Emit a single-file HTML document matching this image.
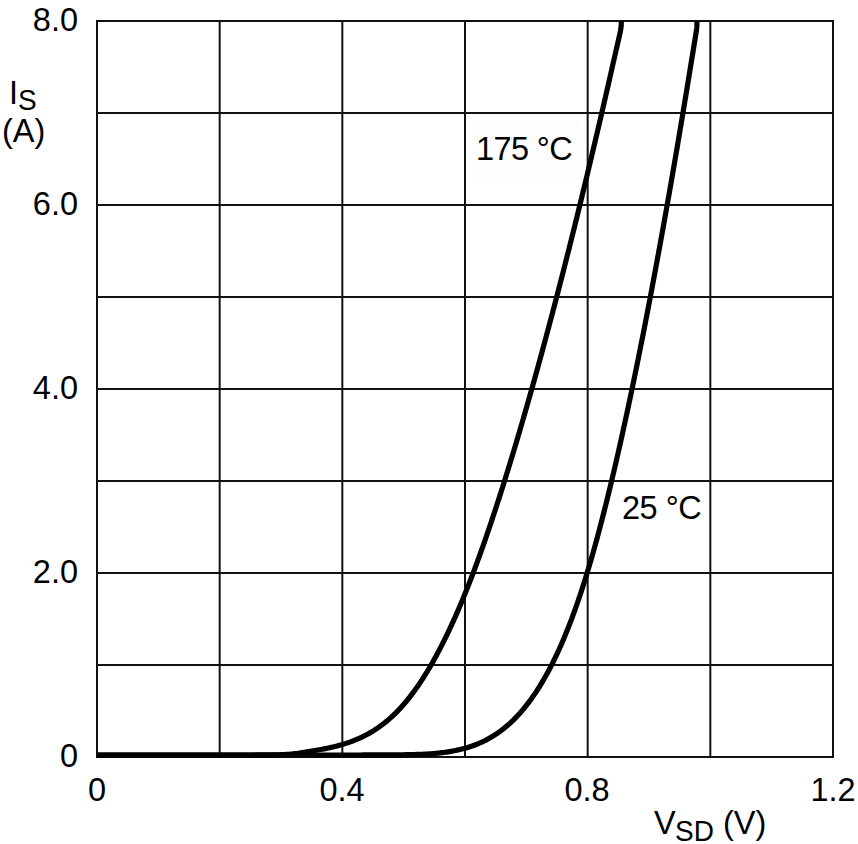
<!DOCTYPE html>
<html><head><meta charset="utf-8">
<style>
html,body{margin:0;padding:0;background:#fff;}
body{width:858px;height:844px;overflow:hidden;position:relative;font-family:"Liberation Sans",sans-serif;color:#000;}
svg{position:absolute;left:0;top:0;}
.t{position:absolute;font-size:32.5px;line-height:32px;white-space:nowrap;}
.r{text-align:right;}
.c{text-align:center;}
.s{font-size:28px;transform:scaleY(1.06);transform-origin:0 0;}
</style></head><body>
<svg width="858" height="844" viewBox="0 0 858 844">
<rect x="471" y="121" width="109" height="60" fill="#fdfdfd"/>
<rect x="96.00" y="20" width="2" height="738" fill="#111"/><rect x="218.67" y="20" width="2" height="738" fill="#111"/><rect x="341.33" y="20" width="2" height="738" fill="#111"/><rect x="464.00" y="20" width="2" height="738" fill="#111"/><rect x="586.67" y="20" width="2" height="738" fill="#111"/><rect x="709.33" y="20" width="2" height="738" fill="#111"/><rect x="832.00" y="20" width="2" height="738" fill="#111"/><rect x="96" y="20.00" width="738" height="2" fill="#111"/><rect x="96" y="112.00" width="738" height="2" fill="#111"/><rect x="96" y="204.00" width="738" height="2" fill="#111"/><rect x="96" y="296.00" width="738" height="2" fill="#111"/><rect x="96" y="388.00" width="738" height="2" fill="#111"/><rect x="96" y="480.00" width="738" height="2" fill="#111"/><rect x="96" y="572.00" width="738" height="2" fill="#111"/><rect x="96" y="664.00" width="738" height="2" fill="#111"/><rect x="96" y="756.00" width="738" height="2" fill="#111"/>
<path d="M97.00 754.98 L232.72 755.00 L234.24 755.00 L235.76 755.00 L237.28 755.00 L238.80 754.99 L240.31 754.99 L241.83 754.99 L243.35 754.99 L244.87 754.99 L246.39 754.99 L247.91 754.99 L249.43 754.98 L250.95 754.98 L252.46 754.98 L253.98 754.98 L255.50 754.97 L257.02 754.97 L258.54 754.96 L260.06 754.96 L261.58 754.95 L263.10 754.94 L264.61 754.93 L266.13 754.92 L267.65 754.91 L269.17 754.90 L270.69 754.88 L272.21 754.86 L273.73 754.84 L275.24 754.81 L276.76 754.78 L278.28 754.75 L279.80 754.70 L281.32 754.66 L282.84 754.60 L284.36 754.54 L285.88 754.47 L287.39 754.38 L288.91 754.28 L290.43 754.17 L291.95 754.04 L293.47 753.88 L294.99 753.70 L296.51 753.50 L298.03 753.26 L299.50 752.99 L301.02 752.70 L302.54 752.44 L304.06 752.20 L305.60 751.96 L307.13 751.73 L308.67 751.49 L310.22 751.25 L311.75 751.02 L313.24 750.78 L314.78 750.53 L316.27 750.28 L317.80 750.03 L319.37 749.75 L320.85 749.49 L322.37 749.21 L323.92 748.91 L325.49 748.61 L327.09 748.28 L328.58 747.97 L330.09 747.65 L331.61 747.31 L333.15 746.95 L334.70 746.58 L336.27 746.19 L337.84 745.78 L339.43 745.36 L340.88 744.95 L342.33 744.53 L343.79 744.09 L345.25 743.63 L346.72 743.15 L348.20 742.66 L349.68 742.14 L351.17 741.60 L352.66 741.04 L354.16 740.45 L355.67 739.84 L357.18 739.20 L358.70 738.54 L360.08 737.92 L361.46 737.28 L362.85 736.61 L364.24 735.91 L365.64 735.19 L367.05 734.45 L368.46 733.67 L369.88 732.87 L371.31 732.03 L372.74 731.17 L374.02 730.37 L375.31 729.55 L376.60 728.70 L377.90 727.82 L379.20 726.91 L380.51 725.97 L381.83 725.00 L383.16 724.00 L384.49 722.96 L385.82 721.89 L387.00 720.92 L388.18 719.92 L389.36 718.90 L390.56 717.85 L391.75 716.76 L392.95 715.64 L394.16 714.50 L395.38 713.31 L396.59 712.10 L397.82 710.84 L398.87 709.74 L399.93 708.61 L401.00 707.45 L402.07 706.26 L403.15 705.05 L404.23 703.80 L405.31 702.52 L406.41 701.21 L407.51 699.86 L408.62 698.49 L409.73 697.08 L410.66 695.87 L411.60 694.64 L412.55 693.39 L413.50 692.11 L414.45 690.80 L415.41 689.47 L416.38 688.11 L417.35 686.72 L418.33 685.30 L419.32 683.85 L420.31 682.38 L421.30 680.87 L422.31 679.33 L423.32 677.76 L424.13 676.48 L424.95 675.17 L425.77 673.85 L426.60 672.50 L427.43 671.14 L428.27 669.75 L429.11 668.33 L429.96 666.89 L430.81 665.43 L431.66 663.95 L432.53 662.44 L433.39 660.90 L434.26 659.34 L435.14 657.76 L436.02 656.14 L436.91 654.50 L437.80 652.84 L438.70 651.14 L439.60 649.42 L440.51 647.67 L441.43 645.89 L442.12 644.54 L442.81 643.17 L443.51 641.78 L444.21 640.37 L444.91 638.95 L445.62 637.51 L446.33 636.05 L447.05 634.57 L447.76 633.08 L448.48 631.57 L449.21 630.03 L449.94 628.48 L450.67 626.91 L451.40 625.32 L452.14 623.71 L452.89 622.08 L453.63 620.43 L454.38 618.76 L455.14 617.07 L455.90 615.36 L456.66 613.63 L457.42 611.87 L458.19 610.10 L458.97 608.30 L459.74 606.48 L460.52 604.63 L461.31 602.77 L462.10 600.88 L462.89 598.97 L463.69 597.03 L464.49 595.07 L465.30 593.08 L466.11 591.07 L466.92 589.04 L467.74 586.98 L468.56 584.89 L469.11 583.49 L469.67 582.07 L470.22 580.65 L470.78 579.21 L471.34 577.75 L471.90 576.29 L472.46 574.81 L473.02 573.33 L473.59 571.83 L474.16 570.31 L474.73 568.79 L475.30 567.25 L475.88 565.70 L476.46 564.14 L477.04 562.56 L477.62 560.97 L478.20 559.37 L478.79 557.76 L479.38 556.13 L479.97 554.48 L480.57 552.83 L481.16 551.16 L481.76 549.48 L482.37 547.78 L482.97 546.07 L483.58 544.34 L484.19 542.60 L484.80 540.85 L485.41 539.08 L486.03 537.30 L486.65 535.50 L487.27 533.69 L487.90 531.86 L488.53 530.02 L489.16 528.16 L489.79 526.29 L490.43 524.40 L491.07 522.49 L491.72 520.57 L492.36 518.64 L493.01 516.69 L493.66 514.72 L494.32 512.73 L494.98 510.73 L495.64 508.72 L496.30 506.68 L496.97 504.63 L497.64 502.57 L498.32 500.48 L498.99 498.38 L499.67 496.26 L500.36 494.12 L501.05 491.97 L501.74 489.80 L502.43 487.61 L503.13 485.40 L503.83 483.17 L504.53 480.93 L505.24 478.67 L505.95 476.38 L506.67 474.08 L507.39 471.76 L508.11 469.42 L508.84 467.07 L509.57 464.69 L510.30 462.29 L511.04 459.87 L511.78 457.44 L512.52 454.98 L513.27 452.50 L514.03 450.01 L514.78 447.49 L515.54 444.95 L516.31 442.39 L517.08 439.81 L517.85 437.20 L518.62 434.58 L519.41 431.93 L520.19 429.27 L520.98 426.58 L521.77 423.86 L522.57 421.13 L523.37 418.37 L524.18 415.59 L524.99 412.79 L525.80 409.96 L526.62 407.11 L527.44 404.24 L527.85 402.80 L528.27 401.35 L528.68 399.89 L529.10 398.43 L529.52 396.96 L529.93 395.48 L530.35 394.00 L530.77 392.51 L531.20 391.02 L531.62 389.52 L532.04 388.01 L532.47 386.50 L532.90 384.98 L533.32 383.46 L533.75 381.93 L534.18 380.39 L534.61 378.85 L535.04 377.30 L535.48 375.74 L535.91 374.18 L536.35 372.61 L536.78 371.03 L537.22 369.45 L537.66 367.86 L538.10 366.27 L538.54 364.67 L538.99 363.06 L539.43 361.44 L539.87 359.82 L540.32 358.19 L540.77 356.56 L541.22 354.92 L541.67 353.27 L542.12 351.61 L542.57 349.95 L543.02 348.28 L543.48 346.61 L543.93 344.92 L544.39 343.23 L544.85 341.54 L545.31 339.83 L545.77 338.12 L546.23 336.41 L546.70 334.68 L547.16 332.95 L547.63 331.21 L548.09 329.46 L548.56 327.71 L549.03 325.95 L549.50 324.18 L549.97 322.41 L550.45 320.62 L550.92 318.84 L551.40 317.04 L551.88 315.23 L552.35 313.42 L552.83 311.60 L553.32 309.78 L553.80 307.94 L554.28 306.10 L554.77 304.25 L555.25 302.39 L555.74 300.53 L556.23 298.65 L556.72 296.77 L557.21 294.89 L557.70 292.99 L558.20 291.09 L558.69 289.18 L559.19 287.26 L559.69 285.33 L560.19 283.39 L560.69 281.45 L561.19 279.50 L561.70 277.54 L562.20 275.57 L562.71 273.60 L563.22 271.61 L563.73 269.62 L564.24 267.62 L564.75 265.61 L565.26 263.60 L565.78 261.57 L566.29 259.54 L566.81 257.50 L567.33 255.45 L567.85 253.39 L568.37 251.32 L568.89 249.25 L569.42 247.17 L569.94 245.07 L570.47 242.97 L571.00 240.86 L571.53 238.74 L572.06 236.62 L572.59 234.48 L573.13 232.34 L573.67 230.18 L574.20 228.02 L574.74 225.85 L575.28 223.67 L575.82 221.48 L576.37 219.28 L576.91 217.07 L577.46 214.86 L578.00 212.63 L578.55 210.40 L579.10 208.15 L579.66 205.90 L580.21 203.64 L580.76 201.37 L581.32 199.08 L581.88 196.79 L582.44 194.49 L583.00 192.19 L583.56 189.87 L584.13 187.54 L584.69 185.20 L585.26 182.85 L585.83 180.49 L586.40 178.13 L586.97 175.75 L587.54 173.36 L588.11 170.97 L588.69 168.56 L589.27 166.14 L589.85 163.72 L590.43 161.28 L591.01 158.84 L591.59 156.38 L592.18 153.91 L592.77 151.44 L593.35 148.95 L593.94 146.45 L594.54 143.95 L595.13 141.43 L595.72 138.90 L596.32 136.36 L596.92 133.81 L597.52 131.25 L598.12 128.68 L598.72 126.10 L599.33 123.51 L599.93 120.91 L600.54 118.30 L601.15 115.67 L601.76 113.04 L602.37 110.39 L602.99 107.74 L603.60 105.07 L604.22 102.39 L604.84 99.70 L605.46 97.00 L606.08 94.29 L606.70 91.57 L607.33 88.84 L607.96 86.09 L608.58 83.34 L609.21 80.57 L609.85 77.79 L610.48 75.00 L611.16 72.00 L611.85 69.00 L612.53 66.00 L613.21 63.00 L613.90 60.00 L614.58 57.00 L615.26 54.00 L615.95 51.00 L616.63 48.00 L617.31 45.00 L618.00 42.00 L618.68 39.00 L619.36 36.00 L619.82 34.00 L620.40 31.23 L620.84 28.72 L621.13 26.44 L621.28 24.42 L621.30 21.00" fill="none" stroke="#000" stroke-width="5.2" stroke-linecap="butt"/>
<path d="M97.00 754.98 L325.15 755.00 L326.67 755.00 L328.19 755.00 L329.70 755.00 L331.22 755.00 L332.74 755.00 L334.25 754.99 L335.77 754.99 L337.29 754.99 L338.81 754.99 L340.32 754.99 L341.84 754.99 L343.36 754.99 L344.87 754.99 L346.39 754.99 L347.91 754.99 L349.42 754.99 L350.94 754.99 L352.46 754.99 L353.97 754.98 L355.49 754.98 L357.01 754.98 L358.52 754.98 L360.04 754.98 L361.56 754.98 L363.08 754.97 L364.59 754.97 L366.11 754.97 L367.63 754.97 L369.14 754.96 L370.66 754.96 L372.18 754.96 L373.69 754.95 L375.21 754.95 L376.73 754.94 L378.24 754.94 L379.76 754.93 L381.28 754.93 L382.79 754.92 L384.31 754.91 L385.83 754.91 L387.35 754.90 L388.86 754.89 L390.38 754.88 L391.90 754.87 L393.41 754.85 L394.93 754.84 L396.45 754.83 L397.96 754.81 L399.48 754.79 L401.00 754.78 L402.51 754.75 L404.03 754.73 L405.55 754.71 L407.06 754.68 L408.58 754.65 L410.10 754.62 L411.62 754.59 L413.13 754.55 L414.65 754.51 L416.17 754.47 L417.68 754.42 L419.20 754.37 L420.72 754.31 L422.23 754.25 L423.75 754.18 L425.27 754.10 L426.78 754.02 L428.30 753.94 L429.82 753.84 L431.33 753.73 L432.85 753.62 L434.37 753.50 L435.89 753.36 L437.40 753.21 L438.92 753.05 L440.45 752.88 L442.01 752.68 L443.54 752.49 L445.03 752.28 L446.55 752.06 L448.11 751.82 L449.61 751.58 L451.15 751.32 L452.64 751.05 L454.14 750.76 L455.68 750.46 L457.15 750.15 L458.65 749.82 L460.17 749.46 L461.72 749.09 L463.19 748.71 L464.68 748.31 L466.19 747.89 L467.72 747.43 L469.17 746.98 L470.64 746.51 L472.12 746.01 L473.63 745.47 L475.04 744.95 L476.47 744.40 L477.91 743.82 L479.38 743.20 L480.85 742.55 L482.23 741.93 L483.63 741.26 L485.04 740.57 L486.46 739.84 L487.90 739.07 L489.24 738.34 L490.59 737.56 L491.95 736.76 L493.33 735.91 L494.73 735.03 L496.01 734.19 L497.30 733.32 L498.61 732.41 L499.93 731.46 L501.26 730.47 L502.47 729.55 L503.70 728.59 L504.93 727.59 L506.18 726.56 L507.44 725.49 L508.71 724.38 L509.84 723.35 L510.99 722.29 L512.15 721.20 L513.32 720.07 L514.50 718.90 L515.68 717.69 L516.73 716.60 L517.79 715.48 L518.85 714.33 L519.92 713.14 L521.00 711.92 L522.09 710.66 L523.18 709.37 L524.29 708.03 L525.24 706.86 L526.20 705.66 L527.16 704.43 L528.13 703.16 L529.11 701.87 L530.10 700.54 L531.09 699.18 L532.08 697.79 L533.09 696.36 L534.10 694.89 L534.95 693.64 L535.80 692.37 L536.65 691.07 L537.52 689.74 L538.38 688.38 L539.25 687.00 L540.13 685.59 L541.01 684.15 L541.89 682.67 L542.78 681.17 L543.68 679.64 L544.58 678.07 L545.48 676.48 L546.39 674.84 L547.12 673.52 L547.86 672.16 L548.60 670.79 L549.34 669.39 L550.08 667.97 L550.83 666.53 L551.58 665.06 L552.34 663.57 L553.09 662.06 L553.86 660.52 L554.62 658.95 L555.39 657.36 L556.16 655.74 L556.93 654.09 L557.71 652.42 L558.49 650.72 L559.28 648.99 L560.07 647.23 L560.86 645.44 L561.66 643.62 L562.26 642.24 L562.86 640.84 L563.46 639.43 L564.06 637.99 L564.67 636.54 L565.28 635.07 L565.89 633.58 L566.51 632.07 L567.12 630.55 L567.74 629.00 L568.36 627.44 L568.98 625.86 L569.60 624.25 L570.23 622.63 L570.85 620.99 L571.48 619.32 L572.12 617.64 L572.75 615.93 L573.39 614.21 L574.02 612.46 L574.66 610.69 L575.31 608.90 L575.95 607.09 L576.60 605.25 L577.25 603.39 L577.90 601.51 L578.55 599.61 L579.20 597.68 L579.86 595.72 L580.52 593.75 L581.18 591.75 L581.85 589.72 L582.51 587.67 L583.18 585.59 L583.85 583.49 L584.52 581.36 L584.97 579.93 L585.42 578.48 L585.88 577.02 L586.33 575.55 L586.78 574.07 L587.24 572.58 L587.69 571.07 L588.15 569.55 L588.61 568.02 L589.07 566.48 L589.53 564.92 L589.99 563.35 L590.46 561.77 L590.92 560.17 L591.39 558.56 L591.85 556.94 L592.32 555.31 L592.79 553.66 L593.26 552.00 L593.74 550.32 L594.21 548.63 L594.69 546.92 L595.16 545.21 L595.64 543.47 L596.12 541.73 L596.60 539.97 L597.09 538.19 L597.57 536.40 L598.06 534.60 L598.55 532.78 L599.03 530.94 L599.53 529.09 L600.02 527.22 L600.51 525.34 L601.01 523.45 L601.51 521.54 L602.01 519.61 L602.51 517.66 L603.01 515.70 L603.52 513.73 L604.03 511.74 L604.54 509.73 L605.05 507.70 L605.56 505.66 L606.07 503.60 L606.59 501.53 L607.11 499.43 L607.63 497.32 L608.15 495.19 L608.68 493.05 L609.21 490.89 L609.73 488.70 L610.27 486.51 L610.80 484.29 L611.33 482.05 L611.87 479.80 L612.41 477.53 L612.95 475.24 L613.50 472.93 L614.05 470.60 L614.59 468.25 L615.15 465.88 L615.70 463.49 L616.25 461.09 L616.81 458.66 L617.37 456.21 L617.94 453.74 L618.50 451.26 L619.07 448.75 L619.64 446.22 L620.21 443.67 L620.79 441.10 L621.37 438.51 L621.95 435.89 L622.53 433.26 L623.12 430.60 L623.70 427.92 L624.30 425.22 L624.89 422.50 L625.49 419.75 L626.08 416.99 L626.69 414.19 L627.29 411.38 L627.90 408.54 L628.51 405.68 L629.12 402.80 L629.74 399.89 L630.36 396.96 L630.67 395.48 L630.98 394.00 L631.29 392.51 L631.60 391.02 L631.92 389.52 L632.23 388.01 L632.54 386.50 L632.86 384.98 L633.18 383.46 L633.49 381.93 L633.81 380.39 L634.13 378.85 L634.45 377.30 L634.77 375.74 L635.09 374.18 L635.41 372.61 L635.73 371.03 L636.06 369.45 L636.38 367.86 L636.71 366.27 L637.03 364.67 L637.36 363.06 L637.68 361.44 L638.01 359.82 L638.34 358.19 L638.67 356.56 L639.00 354.92 L639.33 353.27 L639.66 351.61 L639.99 349.95 L640.33 348.28 L640.66 346.61 L641.00 344.92 L641.33 343.23 L641.67 341.54 L642.01 339.83 L642.34 338.12 L642.68 336.41 L643.02 334.68 L643.36 332.95 L643.71 331.21 L644.05 329.46 L644.39 327.71 L644.73 325.95 L645.08 324.18 L645.43 322.41 L645.77 320.62 L646.12 318.84 L646.47 317.04 L646.82 315.23 L647.17 313.42 L647.52 311.60 L647.87 309.78 L648.22 307.94 L648.57 306.10 L648.93 304.25 L649.28 302.39 L649.64 300.53 L650.00 298.65 L650.35 296.77 L650.71 294.89 L651.07 292.99 L651.43 291.09 L651.79 289.18 L652.16 287.26 L652.52 285.33 L652.88 283.39 L653.25 281.45 L653.61 279.50 L653.98 277.54 L654.35 275.57 L654.72 273.60 L655.09 271.61 L655.46 269.62 L655.83 267.62 L656.20 265.61 L656.57 263.60 L656.95 261.57 L657.32 259.54 L657.70 257.50 L658.07 255.45 L658.45 253.39 L658.83 251.32 L659.21 249.25 L659.59 247.17 L659.97 245.07 L660.35 242.97 L660.74 240.86 L661.12 238.74 L661.51 236.62 L661.89 234.48 L662.28 232.34 L662.67 230.18 L663.06 228.02 L663.45 225.85 L663.84 223.67 L664.23 221.48 L664.62 219.28 L665.02 217.07 L665.41 214.86 L665.81 212.63 L666.21 210.40 L666.60 208.15 L667.00 205.90 L667.40 203.64 L667.80 201.37 L668.21 199.08 L668.61 196.79 L669.01 194.49 L669.42 192.19 L669.82 189.87 L670.23 187.54 L670.64 185.20 L671.05 182.85 L671.46 180.49 L671.87 178.13 L672.28 175.75 L672.70 173.36 L673.11 170.97 L673.53 168.56 L673.94 166.14 L674.36 163.72 L674.78 161.28 L675.20 158.84 L675.62 156.38 L676.04 153.91 L676.46 151.44 L676.89 148.95 L677.31 146.45 L677.74 143.95 L678.16 141.43 L678.59 138.90 L679.02 136.36 L679.45 133.81 L679.88 131.25 L680.31 128.68 L680.75 126.10 L681.18 123.51 L681.62 120.91 L682.05 118.30 L682.49 115.67 L682.93 113.04 L683.37 110.39 L683.81 107.74 L684.25 105.07 L684.70 102.39 L685.14 99.70 L685.59 97.00 L686.03 94.29 L686.48 91.57 L686.93 88.84 L687.38 86.09 L687.83 83.34 L688.28 80.57 L688.74 77.79 L689.19 75.00 L689.68 72.00 L690.17 69.00 L690.66 66.00 L691.15 63.00 L691.64 60.00 L692.13 57.00 L692.62 54.00 L693.11 51.00 L693.61 48.00 L694.10 45.00 L694.59 42.00 L695.08 39.00 L695.57 36.00 L695.89 34.00 L696.31 31.23 L696.63 28.72 L696.84 26.44 L696.94 24.42 L696.96 21.00" fill="none" stroke="#000" stroke-width="5.2" stroke-linecap="butt"/>
</svg>
<div class="t r" style="right:780px;top:4px;">8.0</div>
<div class="t r" style="right:780px;top:188px;">6.0</div>
<div class="t r" style="right:780px;top:372px;">4.0</div>
<div class="t r" style="right:780px;top:556px;">2.0</div>
<div class="t r" style="right:780px;top:740px;">0</div>
<div class="t" style="left:9px;top:77px;">I</div>
<div class="t s" style="left:18px;top:84px;">S</div>
<div class="t" style="left:2px;top:115px;">(A)</div>
<div class="t c" style="left:47px;width:100px;top:774px;">0</div>
<div class="t c" style="left:292px;width:100px;top:774px;">0.4</div>
<div class="t c" style="left:537px;width:100px;top:774px;">0.8</div>
<div class="t c" style="left:783px;width:100px;top:774px;">1.2</div>
<div class="t" style="left:654px;top:807px;">V</div>
<div class="t s" style="left:675px;top:815px;">SD</div>
<div class="t" style="left:723px;top:807px;">(V)</div>
<div class="t" style="left:476px;top:133px;letter-spacing:-0.6px;">175 °C</div>
<div class="t" style="left:622px;top:492px;letter-spacing:-0.5px;">25 °C</div>
</body></html>
